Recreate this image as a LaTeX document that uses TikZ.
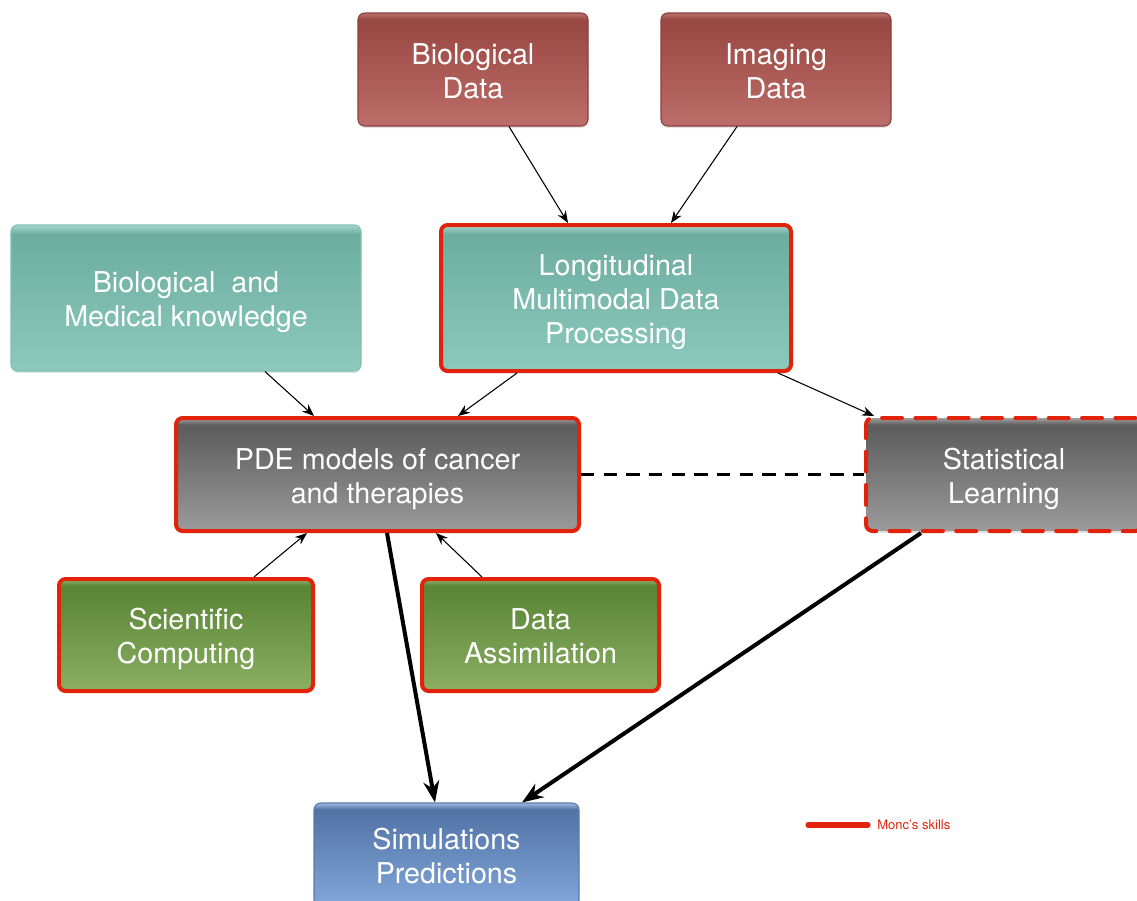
\documentclass[tikz,border=0pt]{standalone}
\usepackage{fontspec}
\setmainfont{TeX Gyre Heros}
\usetikzlibrary{arrows.meta,calc,shadows}
\definecolor{redT}{HTML}{9A4843}
\definecolor{redB}{HTML}{BD6D69}
\definecolor{redG}{HTML}{B8716C}
\definecolor{tealT}{HTML}{6EAEA1}
\definecolor{tealB}{HTML}{8BC9BC}
\definecolor{tealG}{HTML}{A9D9CF}
\definecolor{grayT}{HTML}{5E5E5E}
\definecolor{grayB}{HTML}{9B9B9B}
\definecolor{grayG}{HTML}{A0A0A0}
\definecolor{greenT}{HTML}{5B8637}
\definecolor{greenB}{HTML}{8AAF62}
\definecolor{greenG}{HTML}{93B675}
\definecolor{blueT}{HTML}{5374A6}
\definecolor{blueB}{HTML}{83A8DB}
\definecolor{blueG}{HTML}{A2BCE0}
\definecolor{skill}{HTML}{E2230B}
\definecolor{redline}{HTML}{8B3F3A}
\definecolor{tealline}{HTML}{7DC0B2}
\definecolor{blueline}{HTML}{5B7BAE}
\pgfdeclareverticalshading{redsh}{100bp}{color(0bp)=(redB); color(25bp)=(redB); color(70bp)=(redT); color(72bp)=(redT); color(75bp)=(redG); color(100bp)=(redG)}
\pgfdeclareverticalshading{tealsh}{100bp}{color(0bp)=(tealB); color(25bp)=(tealB); color(70bp)=(tealT); color(72bp)=(tealT); color(75bp)=(tealG); color(100bp)=(tealG)}
\pgfdeclareverticalshading{graysh}{100bp}{color(0bp)=(grayB); color(25bp)=(grayB); color(70bp)=(grayT); color(72bp)=(grayT); color(75bp)=(grayG); color(100bp)=(grayG)}
\pgfdeclareverticalshading{greensh}{100bp}{color(0bp)=(greenB); color(25bp)=(greenB); color(70bp)=(greenT); color(72bp)=(greenT); color(75bp)=(greenG); color(100bp)=(greenG)}
\pgfdeclareverticalshading{bluesh}{100bp}{color(0bp)=(blueB); color(25bp)=(blueB); color(70bp)=(blueT); color(72bp)=(blueT); color(75bp)=(blueG); color(100bp)=(blueG)}
\tikzset{
  box/.style={rounded corners=5pt, align=center, text=white, inner sep=0pt,
    font=\fontsize{21.5}{25.5}\selectfont, text height=48pt, text depth=5pt,
    drop shadow={shadow xshift=0pt, shadow yshift=-1.5pt, opacity=0.2}},
  skillbox/.style={box, draw=skill, line width=3pt},
  skilldash/.style={box, draw=skill, line width=3pt, dash pattern=on 15pt off 10pt, line cap=round},
  thinarrow/.style={line width=0.8pt, -{Stealth[length=9pt,width=7pt]}},
  thickarrow/.style={line width=3pt, -{Stealth[length=16pt,width=12pt]}},
  dashline/.style={line width=2pt, dash pattern=on 10pt off 7pt},
  legendline/.style={line width=3.8pt, line cap=round, draw=skill},
}
\begin{document}
\begin{tikzpicture}[x=0.75pt,y=-0.75pt]
\useasboundingbox (0,0) rectangle (1137,900);
\clip (0,0) rectangle (1137,900);
\fill[white] (0,0) rectangle (1137,900);
% boxes
\node[box, shading=redsh, draw=redline, line width=0.8pt, minimum width=172.5pt, minimum height=84.75pt] (biodata) at (473,69.5) {Biological\\Data};
\node[box, shading=redsh, draw=redline, line width=0.8pt, minimum width=172.5pt, minimum height=84.75pt] (imaging) at (776,69.5) {Imaging\\Data};
\node[box, shading=tealsh, draw=tealline, line width=0.8pt, minimum width=262.5pt, minimum height=109.5pt] (knowledge) at (186,298) {Biological\ \ and\\Medical knowledge};
\node[skillbox, shading=tealsh, minimum width=262.5pt, minimum height=109.5pt, text height=73pt] (longi) at (616,298) {Longitudinal\\Multimodal Data\\Processing};
\node[skillbox, shading=graysh, minimum width=302.25pt, minimum height=84.75pt] (pde) at (377.5,474.5) {PDE models of cancer\\and therapies};
\node[skilldash, shading=graysh, minimum width=207pt, minimum height=84.75pt] (stat) at (1004,474.5) {Statistical\\Learning};
\node[skillbox, shading=greensh, minimum width=190.5pt, minimum height=84pt] (sci) at (186,635) {Scientific\\Computing};
\node[skillbox, shading=greensh, minimum width=177.75pt, minimum height=84pt] (assim) at (540.5,635) {Data\\Assimilation};
\node[box, shading=bluesh, draw=blueline, line width=0.8pt, minimum width=198.75pt, minimum height=78pt] (sim) at (446.5,855) {Simulations\\Predictions};
% connectors
\draw[thinarrow] ($(biodata.south)+(36,0)$) -- ($(longi.north)+(-48,0)$);
\draw[thinarrow] ($(imaging.south)+(-39,0)$) -- ($(longi.north)+(55,0)$);
\draw[thinarrow] ($(knowledge.south)+(79,0)$) -- ($(pde.north)+(-63.5,0)$);
\draw[thinarrow] ($(longi.south)+(-99,0)$) -- ($(pde.north)+(80.5,0)$);
\draw[thinarrow] ($(longi.south)+(162,0)$) -- ($(stat.north west)+(10,0)$);
\draw[dashline] (pde.east) -- (stat.west);
\draw[thinarrow] ($(sci.north)+(68,0)$) -- ($(pde.south)+(-70.5,0)$);
\draw[thinarrow] ($(assim.north)+(-58.5,0)$) -- ($(pde.south)+(58.5,0)$);
\draw[thickarrow] ($(pde.south)+(9.5,0)$) -- ($(sim.north)+(-11.5,0)$);
\draw[thickarrow] ($(stat.south)+(-83,0)$) -- ($(sim.north)+(75.5,0)$);
% legend
\coordinate (la) at (808,825);
\coordinate (lb) at (868,825);
\draw[legendline] (la) -- (lb);
\node[anchor=west, inner sep=0pt, text=skill, font=\fontsize{9.8}{11}\selectfont] (legtext) at (877,825) {Monc’s skills};
\end{tikzpicture}
\end{document}
